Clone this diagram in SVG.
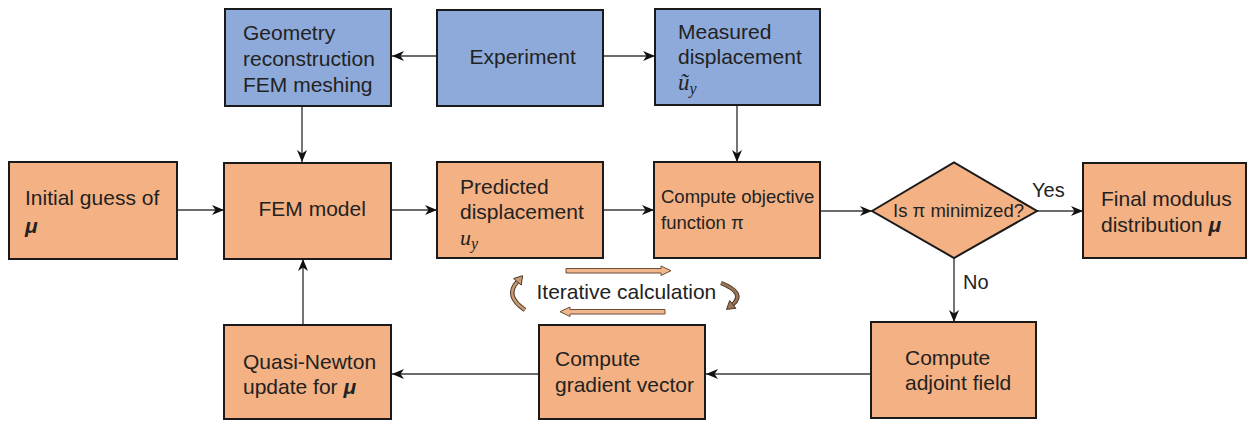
<svg xmlns="http://www.w3.org/2000/svg" width="1250" height="421" viewBox="0 0 1250 421">
<style>
.t{font-family:"Liberation Sans",Arial,sans-serif;font-size:21px;fill:#222}
.s{font-size:18.5px}
.m{font-family:"Liberation Serif","Times New Roman",serif;font-style:italic}
.mu{font-weight:bold;font-style:italic}
.blue{fill:#8eaadb;stroke:#1a1a1a;stroke-width:2}
.org{fill:#f4b183;stroke:#1a1a1a;stroke-width:2}
.c{fill:none;stroke:#3a3a3a;stroke-width:1.4;marker-end:url(#ah)}
.blk{fill:#f2b68c;stroke:#6b4f3a;stroke-width:1}
</style>
<defs>
<marker id="ah" markerUnits="userSpaceOnUse" markerWidth="13" markerHeight="11" refX="12" refY="5.5" orient="auto">
<path d="M0,0.5 L12,5.5 L0,10.5 L3.5,5.5 Z" fill="#111"/>
</marker>
</defs>
<rect width="1250" height="421" fill="#fff"/>

<g id="connectors">
<line class="c" x1="437" y1="56" x2="392" y2="56"/>
<line class="c" x1="603" y1="56" x2="655" y2="56"/>
<line class="c" x1="302" y1="107" x2="302" y2="162"/>
<line class="c" x1="737" y1="105" x2="737" y2="162"/>
<line class="c" x1="177" y1="210" x2="224" y2="210"/>
<line class="c" x1="391" y1="210" x2="437" y2="210"/>
<line class="c" x1="603" y1="210" x2="654" y2="210"/>
<line class="c" x1="820" y1="211" x2="872" y2="211"/>
<line class="c" x1="1037" y1="211" x2="1083" y2="211"/>
<line class="c" x1="954" y1="258" x2="954" y2="322"/>
<line class="c" x1="871" y1="374" x2="706" y2="374"/>
<line class="c" x1="539" y1="374" x2="392" y2="374"/>
<line class="c" x1="303" y1="325" x2="303" y2="259"/>
<text class="t" x="1032" y="197" style="font-size:20px">Yes</text>
<text class="t" x="963" y="289" style="font-size:20px">No</text>
</g>

<g id="n-geometry">
<rect class="blue" x="225" y="9" width="166" height="97"/>
<text class="t" x="243" y="40">Geometry</text>
<text class="t" x="243" y="66">reconstruction</text>
<text class="t" x="243" y="92">FEM meshing</text>
</g>
<g id="n-experiment">
<rect class="blue" x="437" y="10" width="166" height="96"/>
<text class="t" x="469.5" y="63.5">Experiment</text>
</g>
<g id="n-measured">
<rect class="blue" x="655" y="9" width="165" height="96"/>
<text class="t" x="678" y="39">Measured</text>
<text class="t" x="678" y="64">displacement</text>
<text class="t m" x="678" y="90" style="font-size:23px">ũ<tspan dy="4" style="font-size:16px">y</tspan></text>
</g>

<g id="n-initial">
<rect class="org" x="9" y="162" width="168" height="97"/>
<text class="t" x="25" y="205">Initial guess of</text>
<text class="t mu" x="25" y="233">μ</text>
</g>
<g id="n-fem">
<rect class="org" x="224" y="163" width="167" height="96"/>
<text class="t" x="258.5" y="215.5">FEM model</text>
</g>
<g id="n-predicted">
<rect class="org" x="437" y="162" width="166" height="96"/>
<text class="t" x="460" y="194">Predicted</text>
<text class="t" x="460" y="219">displacement</text>
<text class="t m" x="460" y="245" style="font-size:22px">u<tspan dy="4" style="font-size:16px">y</tspan></text>
</g>
<g id="n-objective">
<rect class="org" x="654" y="162" width="166" height="96"/>
<text class="t s" x="661" y="203">Compute objective</text>
<text class="t s" x="661" y="229">function π</text>
</g>
<g id="n-decision">
<polygon class="org" points="872,211 954,162.5 1037,211 954,258"/>
<text class="t s" x="893" y="217">Is π minimized?</text>
</g>
<g id="n-final">
<rect class="org" x="1083" y="163" width="163" height="95"/>
<text class="t" x="1101" y="206">Final modulus</text>
<text class="t" x="1101" y="232">distribution <tspan class="mu">μ</tspan></text>
</g>

<g id="n-quasi">
<rect class="org" x="224" y="325" width="167" height="94"/>
<text class="t" x="243" y="369">Quasi-Newton</text>
<text class="t" x="243" y="394">update for <tspan class="mu">μ</tspan></text>
</g>
<g id="n-gradient">
<rect class="org" x="539" y="325" width="166" height="94"/>
<text class="t" x="555" y="366">Compute</text>
<text class="t" x="555" y="392">gradient vector</text>
</g>
<g id="n-adjoint">
<rect class="org" x="871" y="322" width="165" height="96"/>
<text class="t" x="905" y="365">Compute</text>
<text class="t" x="905" y="390">adjoint field</text>
</g>

<g id="iterative">
<polygon class="blk" points="566,268.5 661,268.5 661,266 671,270.7 661,275.5 661,273 566,273"/>
<polygon class="blk" points="560,311.7 570,307 570,309.5 665,309.5 665,314 570,314 570,316.5"/>
<path d="M525,310 Q504,296 517.4,281.8" fill="none" stroke="#4a3a2a" stroke-width="4.5"/>
<path d="M525,310 Q504,296 517.4,281.8" fill="none" stroke="#c99a72" stroke-width="2.5"/>
<polygon points="522.6,275.7 521.2,285.1 513.6,278.5" fill="#c99a72" stroke="#4a3a2a" stroke-width="1"/>
<path d="M721,283 Q746,293 732.8,304.4" fill="none" stroke="#4a3a2a" stroke-width="4.5"/>
<path d="M721,283 Q746,293 732.8,304.4" fill="none" stroke="#9a7658" stroke-width="2.5"/>
<polygon points="726.5,309.4 735.9,308.3 729.7,300.5" fill="#9a7658" stroke="#4a3a2a" stroke-width="1"/>
<text class="t" x="536.5" y="298.5">Iterative calculation</text>
</g>
</svg>
